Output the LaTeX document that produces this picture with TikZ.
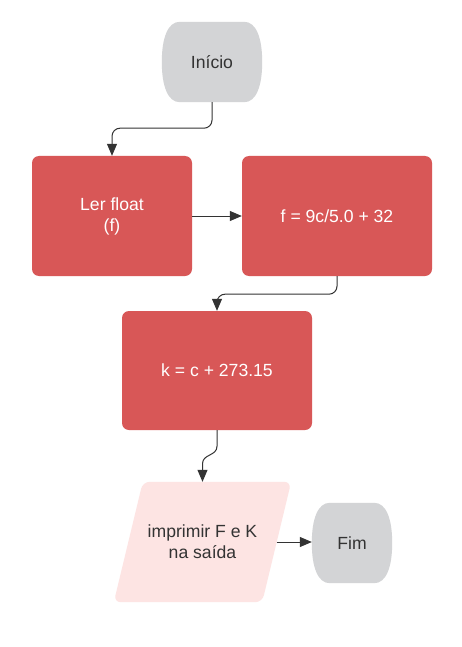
\documentclass[tikz,border=0pt]{standalone}
\usepackage{fontspec}
\setmainfont{Liberation Sans}
\usetikzlibrary{calc,arrows.meta}
\definecolor{boxred}{RGB}{216,87,87}
\definecolor{termgray}{RGB}{211,212,214}
\definecolor{parapink}{RGB}{253,228,227}
\definecolor{darktext}{RGB}{51,51,51}
\definecolor{linecol}{RGB}{51,51,51}
\newcommand\termshape[1]{%
  \fill[termgray] ($(#1.north west)+(18,0)$) -- ($(#1.north east)+(-18,0)$)
    .. controls ($(#1.north east)+(-6,0)$) and ($(#1.east)+(0,-24)$) .. (#1.east)
    .. controls ($(#1.east)+(0,24)$) and ($(#1.south east)+(-6,0)$) .. ($(#1.south east)+(-18,0)$)
    -- ($(#1.south west)+(18,0)$)
    .. controls ($(#1.south west)+(6,0)$) and ($(#1.west)+(0,24)$) .. (#1.west)
    .. controls ($(#1.west)+(0,-24)$) and ($(#1.north west)+(6,0)$) .. ($(#1.north west)+(18,0)$)
    -- cycle;}
\begin{document}
\begin{tikzpicture}[x=1pt,y=-1pt,
  txt/.style={font=\fontsize{17.6}{21}\selectfont, align=center, inner sep=0pt},
  redbox/.style={txt, fill=boxred, text=white, rounded corners=7pt, minimum width=160pt, minimum height=120pt},
  termnode/.style={txt, text=darktext, minimum width=#1, minimum height=80pt},
  paranode/.style={txt, text=darktext, minimum width=148pt, minimum height=120pt},
  conn/.style={draw=linecol, line width=1pt, rounded corners=8pt, -{Triangle[length=12pt,width=10pt]}}]
\useasboundingbox (0,0) rectangle (461,647);
\fill[white] (0,0) rectangle (461,647);
% nodes
\node[termnode=100pt] (start) at (212,62) {};
\termshape{start}
\node[termnode=100pt] at (start.center) {Início};
\node[redbox] (read) at (112,216) {Ler float\\(f)};
\node[redbox, minimum width=190pt] (calcf) at (337,216) {f = 9c/5.0 + 32};
\node[redbox, minimum width=190pt, minimum height=119pt] (calck) at (217,370.5) {k = c + 273.15};
\node[paranode] (out) at (202.5,542) {};
\fill[parapink, rounded corners=7pt] ($(out.north west)+(14.5,0)$) -- ($(out.north east)+(14.5,0)$)
  -- ($(out.south east)+(-14.5,0)$) -- ($(out.south west)+(-14.5,0)$) -- cycle;
\node[paranode] at (out.center) {imprimir F e K\\na saída};
\node[termnode=80pt] (end) at (352,543) {};
\termshape{end}
\node[termnode=80pt] at (end.center) {Fim};
% connectors
\draw[conn] (start.south) -- ++(0,26) -| (read.north);
\draw[conn] (read.east) -- (calcf.west);
\draw[conn] (calcf.south) -- ++(0,18) -| (calck.north);
\draw[draw=linecol, line width=1pt, -{Triangle[length=12pt,width=10pt]}]
  (calck.south) -- ++(0,16) .. controls ++(0,10) and ($(out.north)+(0,-28)$) .. ($(out.north)+(0,-18)$) -- (out.north);
\draw[conn] (out.east) -- (end.west |- out.east);
\end{tikzpicture}
\end{document}
